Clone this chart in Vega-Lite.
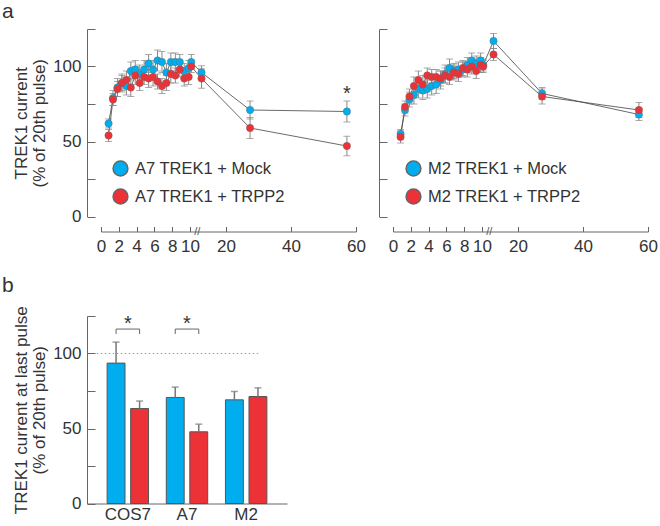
{
  "$schema": "https://vega.github.io/schema/vega-lite/v6.json",
  "padding": {"left": 2, "top": 0, "right": 2, "bottom": 2},
  "background": "white",
  "config": {
    "font": "Liberation Sans",
    "view": {"stroke": null},
    "axis": {"grid": false, "domainColor": "#666", "tickColor": "#666", "labelColor": "#333", "titleColor": "#333", "labelFontSize": 17, "titleFontSize": 17, "titleFontWeight": "normal", "domainWidth": 1, "tickWidth": 1},
    "title": {"fontWeight": "normal", "color": "#333"}
  },
  "datasets": {
    "curves": [
      {"panel": "A7", "series": "A7 TREK1 + Mock", "x": 0.85, "v": 62, "e": 3},
      {"panel": "A7", "series": "A7 TREK1 + Mock", "x": 1.35, "v": 79, "e": 5},
      {"panel": "A7", "series": "A7 TREK1 + Mock", "x": 1.85, "v": 86, "e": 6},
      {"panel": "A7", "series": "A7 TREK1 + Mock", "x": 2.35, "v": 89, "e": 6},
      {"panel": "A7", "series": "A7 TREK1 + Mock", "x": 2.85, "v": 87, "e": 6},
      {"panel": "A7", "series": "A7 TREK1 + Mock", "x": 3.35, "v": 97, "e": 6},
      {"panel": "A7", "series": "A7 TREK1 + Mock", "x": 3.85, "v": 98, "e": 6},
      {"panel": "A7", "series": "A7 TREK1 + Mock", "x": 4.35, "v": 95, "e": 6},
      {"panel": "A7", "series": "A7 TREK1 + Mock", "x": 4.85, "v": 98, "e": 6},
      {"panel": "A7", "series": "A7 TREK1 + Mock", "x": 5.35, "v": 102, "e": 6},
      {"panel": "A7", "series": "A7 TREK1 + Mock", "x": 5.85, "v": 98, "e": 6},
      {"panel": "A7", "series": "A7 TREK1 + Mock", "x": 6.35, "v": 104, "e": 7},
      {"panel": "A7", "series": "A7 TREK1 + Mock", "x": 6.85, "v": 103, "e": 7},
      {"panel": "A7", "series": "A7 TREK1 + Mock", "x": 7.35, "v": 96, "e": 6},
      {"panel": "A7", "series": "A7 TREK1 + Mock", "x": 7.85, "v": 103, "e": 6},
      {"panel": "A7", "series": "A7 TREK1 + Mock", "x": 8.35, "v": 103, "e": 6},
      {"panel": "A7", "series": "A7 TREK1 + Mock", "x": 8.85, "v": 103, "e": 5},
      {"panel": "A7", "series": "A7 TREK1 + Mock", "x": 9.35, "v": 97, "e": 5},
      {"panel": "A7", "series": "A7 TREK1 + Mock", "x": 9.85, "v": 99, "e": 5},
      {"panel": "A7", "series": "A7 TREK1 + Mock", "x": 10.35, "v": 103, "e": 5},
      {"panel": "A7", "series": "A7 TREK1 + Mock", "x": 13.2, "v": 96, "e": 4.5},
      {"panel": "A7", "series": "A7 TREK1 + Mock", "x": 27.4, "v": 71, "e": 6},
      {"panel": "A7", "series": "A7 TREK1 + Mock", "x": 57.2, "v": 70, "e": 7},
      {"panel": "A7", "series": "A7 TREK1 + TRPP2", "x": 0.85, "v": 54, "e": 4},
      {"panel": "A7", "series": "A7 TREK1 + TRPP2", "x": 1.35, "v": 78, "e": 4},
      {"panel": "A7", "series": "A7 TREK1 + TRPP2", "x": 1.85, "v": 85, "e": 5},
      {"panel": "A7", "series": "A7 TREK1 + TRPP2", "x": 2.35, "v": 89, "e": 5},
      {"panel": "A7", "series": "A7 TREK1 + TRPP2", "x": 2.85, "v": 91, "e": 6},
      {"panel": "A7", "series": "A7 TREK1 + TRPP2", "x": 3.35, "v": 86, "e": 6},
      {"panel": "A7", "series": "A7 TREK1 + TRPP2", "x": 3.85, "v": 94, "e": 6},
      {"panel": "A7", "series": "A7 TREK1 + TRPP2", "x": 4.35, "v": 89, "e": 5},
      {"panel": "A7", "series": "A7 TREK1 + TRPP2", "x": 4.85, "v": 93, "e": 5},
      {"panel": "A7", "series": "A7 TREK1 + TRPP2", "x": 5.35, "v": 92, "e": 6},
      {"panel": "A7", "series": "A7 TREK1 + TRPP2", "x": 5.85, "v": 93, "e": 6},
      {"panel": "A7", "series": "A7 TREK1 + TRPP2", "x": 6.35, "v": 90, "e": 5},
      {"panel": "A7", "series": "A7 TREK1 + TRPP2", "x": 6.85, "v": 87, "e": 5},
      {"panel": "A7", "series": "A7 TREK1 + TRPP2", "x": 7.35, "v": 89, "e": 5},
      {"panel": "A7", "series": "A7 TREK1 + TRPP2", "x": 7.85, "v": 95, "e": 6},
      {"panel": "A7", "series": "A7 TREK1 + TRPP2", "x": 8.35, "v": 94, "e": 5},
      {"panel": "A7", "series": "A7 TREK1 + TRPP2", "x": 8.85, "v": 98, "e": 5},
      {"panel": "A7", "series": "A7 TREK1 + TRPP2", "x": 9.35, "v": 92, "e": 5},
      {"panel": "A7", "series": "A7 TREK1 + TRPP2", "x": 9.85, "v": 93, "e": 5},
      {"panel": "A7", "series": "A7 TREK1 + TRPP2", "x": 10.35, "v": 100, "e": 4},
      {"panel": "A7", "series": "A7 TREK1 + TRPP2", "x": 13.2, "v": 92, "e": 6.5},
      {"panel": "A7", "series": "A7 TREK1 + TRPP2", "x": 27.4, "v": 59, "e": 7},
      {"panel": "A7", "series": "A7 TREK1 + TRPP2", "x": 57.2, "v": 47, "e": 6.5},
      {"panel": "M2", "series": "M2 TREK1 + Mock", "x": 0.85, "v": 55, "e": 3},
      {"panel": "M2", "series": "M2 TREK1 + Mock", "x": 1.35, "v": 71, "e": 4},
      {"panel": "M2", "series": "M2 TREK1 + Mock", "x": 1.85, "v": 78, "e": 5},
      {"panel": "M2", "series": "M2 TREK1 + Mock", "x": 2.35, "v": 81, "e": 6},
      {"panel": "M2", "series": "M2 TREK1 + Mock", "x": 2.85, "v": 85, "e": 6},
      {"panel": "M2", "series": "M2 TREK1 + Mock", "x": 3.35, "v": 84, "e": 6},
      {"panel": "M2", "series": "M2 TREK1 + Mock", "x": 3.85, "v": 85, "e": 6},
      {"panel": "M2", "series": "M2 TREK1 + Mock", "x": 4.35, "v": 87, "e": 6},
      {"panel": "M2", "series": "M2 TREK1 + Mock", "x": 4.85, "v": 88, "e": 6},
      {"panel": "M2", "series": "M2 TREK1 + Mock", "x": 5.35, "v": 91, "e": 6},
      {"panel": "M2", "series": "M2 TREK1 + Mock", "x": 5.85, "v": 95, "e": 6},
      {"panel": "M2", "series": "M2 TREK1 + Mock", "x": 6.35, "v": 99, "e": 6},
      {"panel": "M2", "series": "M2 TREK1 + Mock", "x": 6.85, "v": 97, "e": 5},
      {"panel": "M2", "series": "M2 TREK1 + Mock", "x": 7.35, "v": 98, "e": 5},
      {"panel": "M2", "series": "M2 TREK1 + Mock", "x": 7.85, "v": 98, "e": 5},
      {"panel": "M2", "series": "M2 TREK1 + Mock", "x": 8.35, "v": 101, "e": 5},
      {"panel": "M2", "series": "M2 TREK1 + Mock", "x": 8.85, "v": 104, "e": 5},
      {"panel": "M2", "series": "M2 TREK1 + Mock", "x": 9.35, "v": 102, "e": 5},
      {"panel": "M2", "series": "M2 TREK1 + Mock", "x": 9.85, "v": 104, "e": 5},
      {"panel": "M2", "series": "M2 TREK1 + Mock", "x": 10.35, "v": 101, "e": 4},
      {"panel": "M2", "series": "M2 TREK1 + Mock", "x": 13.2, "v": 117, "e": 5},
      {"panel": "M2", "series": "M2 TREK1 + Mock", "x": 27.4, "v": 82, "e": 4},
      {"panel": "M2", "series": "M2 TREK1 + Mock", "x": 57.2, "v": 68, "e": 4},
      {"panel": "M2", "series": "M2 TREK1 + TRPP2", "x": 0.85, "v": 53, "e": 4},
      {"panel": "M2", "series": "M2 TREK1 + TRPP2", "x": 1.35, "v": 73, "e": 4},
      {"panel": "M2", "series": "M2 TREK1 + TRPP2", "x": 1.85, "v": 80, "e": 5},
      {"panel": "M2", "series": "M2 TREK1 + TRPP2", "x": 2.35, "v": 87, "e": 6},
      {"panel": "M2", "series": "M2 TREK1 + TRPP2", "x": 2.85, "v": 91, "e": 6},
      {"panel": "M2", "series": "M2 TREK1 + TRPP2", "x": 3.35, "v": 88, "e": 6},
      {"panel": "M2", "series": "M2 TREK1 + TRPP2", "x": 3.85, "v": 94, "e": 5},
      {"panel": "M2", "series": "M2 TREK1 + TRPP2", "x": 4.35, "v": 93, "e": 5},
      {"panel": "M2", "series": "M2 TREK1 + TRPP2", "x": 4.85, "v": 93, "e": 5},
      {"panel": "M2", "series": "M2 TREK1 + TRPP2", "x": 5.35, "v": 92, "e": 5},
      {"panel": "M2", "series": "M2 TREK1 + TRPP2", "x": 5.85, "v": 94, "e": 5},
      {"panel": "M2", "series": "M2 TREK1 + TRPP2", "x": 6.35, "v": 93, "e": 5},
      {"panel": "M2", "series": "M2 TREK1 + TRPP2", "x": 6.85, "v": 96, "e": 5},
      {"panel": "M2", "series": "M2 TREK1 + TRPP2", "x": 7.35, "v": 95, "e": 5},
      {"panel": "M2", "series": "M2 TREK1 + TRPP2", "x": 7.85, "v": 99, "e": 5},
      {"panel": "M2", "series": "M2 TREK1 + TRPP2", "x": 8.35, "v": 98, "e": 5},
      {"panel": "M2", "series": "M2 TREK1 + TRPP2", "x": 8.85, "v": 100, "e": 5},
      {"panel": "M2", "series": "M2 TREK1 + TRPP2", "x": 9.35, "v": 97, "e": 5},
      {"panel": "M2", "series": "M2 TREK1 + TRPP2", "x": 9.85, "v": 101, "e": 5},
      {"panel": "M2", "series": "M2 TREK1 + TRPP2", "x": 10.35, "v": 100, "e": 4},
      {"panel": "M2", "series": "M2 TREK1 + TRPP2", "x": 13.2, "v": 108, "e": 4},
      {"panel": "M2", "series": "M2 TREK1 + TRPP2", "x": 27.4, "v": 80, "e": 5},
      {"panel": "M2", "series": "M2 TREK1 + TRPP2", "x": 57.2, "v": 71, "e": 5}
    ],
    "notes": [
      {"panel": "A7", "x": 57.2, "v": 82, "t": "*", "kind": "star"},
      {"panel": "A7", "x": 12, "v": -10, "t": "//", "kind": "break"},
      {"panel": "M2", "x": 12, "v": -10, "t": "//", "kind": "break"}
    ],
    "bars": [
      {"cell": "COS7", "grp": "Mock", "v": 93.6, "hi": 107.6},
      {"cell": "COS7", "grp": "TRPP2", "v": 63.3, "hi": 68.3},
      {"cell": "A7", "grp": "Mock", "v": 70.7, "hi": 77.6},
      {"cell": "A7", "grp": "TRPP2", "v": 47.8, "hi": 52.9},
      {"cell": "M2", "grp": "Mock", "v": 69.1, "hi": 74.7},
      {"cell": "M2", "grp": "TRPP2", "v": 71.3, "hi": 77.1}
    ],
    "brackets": [
      {"br": "c", "cell": "COS7", "grp": "Mock", "v": 113, "o": 1},
      {"br": "c", "cell": "COS7", "grp": "Mock", "v": 116.3, "o": 2},
      {"br": "c", "cell": "COS7", "grp": "TRPP2", "v": 116.3, "o": 3},
      {"br": "c", "cell": "COS7", "grp": "TRPP2", "v": 113, "o": 4},
      {"br": "a", "cell": "A7", "grp": "Mock", "v": 113, "o": 1},
      {"br": "a", "cell": "A7", "grp": "Mock", "v": 116.3, "o": 2},
      {"br": "a", "cell": "A7", "grp": "TRPP2", "v": 116.3, "o": 3},
      {"br": "a", "cell": "A7", "grp": "TRPP2", "v": 113, "o": 4}
    ],
    "stars": [
      {"cell": "COS7", "v": 119.5, "t": "*"},
      {"cell": "A7", "v": 119.5, "t": "*"}
    ],
    "ref": [
      {"c0": "COS7", "c1": "M2", "v": 100}
    ]
  },
  "resolve": {"scale": {"color": "independent", "x": "independent", "y": "independent", "xOffset": "independent"}, "legend": {"color": "independent"}},
  "bounds": "flush",
  "spacing": {"row": 99, "column": 22},
  "columns": 2,
  "concat": [
    {
      "width": 270,
      "height": 187.5,
      "title": {"text": "a", "anchor": "start", "frame": "group", "dx": -85, "fontSize": 21, "offset": -10, "baseline": "alphabetic"},
      "encoding": {
        "x": {"field": "x", "type": "quantitative", "scale": {"type": "linear", "domain": [0, 10, 20, 60], "range": [14, 103, 139, 269], "nice": false, "zero": false},
          "axis": {"values": [0, 2, 4, 6, 8, 10, 20, 40, 60], "title": null, "offset": 15, "tickSize": -5, "labelPadding": 12, "labelFlush": false, "labelOverlap": false}},
        "y": {"field": "v", "type": "quantitative", "scale": {"domain": [0, 125], "nice": false, "zero": false},
          "axis": {"values": [0, 25, 50, 75, 100, 125], "labelExpr": "datum.value % 50 === 0 ? datum.label : ''", "tickSize": -8, "labelPadding": 14, "title": ["TREK1 current", "(% of 20th pulse)"], "titlePadding": 4, "titleLineHeight": 18}}
      },
      "layer": [
        {"data": {"name": "curves"}, "transform": [{"filter": "datum.panel === 'A7'"}],
          "mark": {"type": "line", "color": "#444", "strokeWidth": 0.8},
          "encoding": {"detail": {"field": "series"}}},
        {"data": {"name": "curves"}, "transform": [{"filter": "datum.panel === 'A7'"}],
          "mark": {"type": "errorbar", "color": "#888", "thickness": 1, "ticks": {"size": 7, "color": "#888"}},
          "encoding": {"yError": {"field": "e"}, "detail": {"field": "series"}}},
        {"data": {"name": "curves"}, "transform": [{"filter": "datum.panel === 'A7'"}],
          "mark": {"type": "point", "filled": true, "size": 55, "opacity": 1, "stroke": "#666", "strokeWidth": 0.4},
          "encoding": {"color": {"field": "series", "type": "nominal",
            "scale": {"domain": ["A7 TREK1 + Mock", "A7 TREK1 + TRPP2"], "range": ["#00AEEF", "#EC3237"]},
            "legend": {"orient": "none", "legendX": 25, "legendY": 131, "title": null, "padding": 0, "symbolType": "circle", "symbolSize": 220, "labelFontSize": 16.5, "labelColor": "#333", "rowPadding": 7, "labelOffset": 6,
              "encode": {"symbols": {"update": {"stroke": {"value": "#444"}, "strokeWidth": {"value": 1}}}}}}}},
        {"data": {"name": "notes"}, "transform": [{"filter": "datum.panel === 'A7' && datum.kind === 'star'"}],
          "mark": {"type": "text", "fontSize": 20, "color": "#333", "baseline": "middle"},
          "encoding": {"text": {"field": "t"}}},
        {"data": {"name": "notes"}, "transform": [{"filter": "datum.panel === 'A7' && datum.kind === 'break'"}],
          "mark": {"type": "text", "fontSize": 11, "color": "#555", "baseline": "middle"},
          "encoding": {"text": {"field": "t"}}}
      ]
    },
    {
      "width": 270,
      "height": 187.5,
      "encoding": {
        "x": {"field": "x", "type": "quantitative", "scale": {"type": "linear", "domain": [0, 10, 20, 60], "range": [14, 103, 139, 269], "nice": false, "zero": false},
          "axis": {"values": [0, 2, 4, 6, 8, 10, 20, 40, 60], "title": null, "offset": 15, "tickSize": -5, "labelPadding": 12, "labelFlush": false, "labelOverlap": false}},
        "y": {"field": "v", "type": "quantitative", "scale": {"domain": [0, 125], "nice": false, "zero": false},
          "axis": {"values": [0, 25, 50, 75, 100, 125], "labels": false, "tickSize": -8, "title": null}}
      },
      "layer": [
        {"data": {"name": "curves"}, "transform": [{"filter": "datum.panel === 'M2'"}],
          "mark": {"type": "line", "color": "#444", "strokeWidth": 0.8},
          "encoding": {"detail": {"field": "series"}}},
        {"data": {"name": "curves"}, "transform": [{"filter": "datum.panel === 'M2'"}],
          "mark": {"type": "errorbar", "color": "#888", "thickness": 1, "ticks": {"size": 7, "color": "#888"}},
          "encoding": {"yError": {"field": "e"}, "detail": {"field": "series"}}},
        {"data": {"name": "curves"}, "transform": [{"filter": "datum.panel === 'M2'"}],
          "mark": {"type": "point", "filled": true, "size": 55, "opacity": 1, "stroke": "#666", "strokeWidth": 0.4},
          "encoding": {"color": {"field": "series", "type": "nominal",
            "scale": {"domain": ["M2 TREK1 + Mock", "M2 TREK1 + TRPP2"], "range": ["#00AEEF", "#EC3237"]},
            "legend": {"orient": "none", "legendX": 26, "legendY": 131, "title": null, "padding": 0, "symbolType": "circle", "symbolSize": 220, "labelFontSize": 16.5, "labelColor": "#333", "rowPadding": 7, "labelOffset": 6,
              "encode": {"symbols": {"update": {"stroke": {"value": "#444"}, "strokeWidth": {"value": 1}}}}}}}},
        {"data": {"name": "notes"}, "transform": [{"filter": "datum.panel === 'M2' && datum.kind === 'break'"}],
          "mark": {"type": "text", "fontSize": 11, "color": "#555", "baseline": "middle"},
          "encoding": {"text": {"field": "t"}}}
      ]
    },
    {
      "width": 200,
      "height": 187.5,
      "title": {"text": "b", "anchor": "start", "frame": "group", "dx": -85, "fontSize": 21, "offset": -7.5, "baseline": "alphabetic"},
      "encoding": {
        "x": {"field": "cell", "type": "nominal", "scale": {"domain": ["COS7", "A7", "M2"], "paddingInner": 0.3, "paddingOuter": 0.34},
          "axis": {"title": null, "ticks": false, "labelAngle": 0, "labelPadding": 3}},
        "y": {"field": "v", "type": "quantitative", "scale": {"domain": [0, 125], "nice": false, "zero": false},
          "axis": {"values": [0, 25, 50, 75, 100, 125], "labelExpr": "datum.value % 50 === 0 ? datum.label : ''", "tickSize": -8, "labelPadding": 14, "title": ["TREK1 current at last pulse", "(% of 20th pulse)"], "titlePadding": 4, "titleLineHeight": 18}}
      },
      "layer": [
        {"data": {"name": "ref"},
          "mark": {"type": "rule", "color": "#999", "strokeDash": [1.5, 2.5], "strokeWidth": 1},
          "encoding": {"x": {"field": "c0", "type": "nominal", "bandPosition": -0.25}, "x2": {"field": "c1", "bandPosition": 0.85}}},
        {"data": {"name": "bars"},
          "mark": {"type": "bar", "stroke": "#555", "strokeWidth": 1},
          "encoding": {"xOffset": {"field": "grp", "type": "nominal", "scale": {"domain": ["Mock", "TRPP2"], "paddingInner": 0.24}},
            "color": {"field": "grp", "type": "nominal", "scale": {"domain": ["Mock", "TRPP2"], "range": ["#00AEEF", "#EC3237"]}, "legend": null}}},
        {"data": {"name": "bars"},
          "mark": {"type": "rule", "color": "#777", "strokeWidth": 1.5},
          "encoding": {"xOffset": {"field": "grp", "type": "nominal"}, "y2": {"field": "hi"}}},
        {"data": {"name": "bars"},
          "mark": {"type": "tick", "color": "#777", "size": 7, "thickness": 1.5, "orient": "horizontal"},
          "encoding": {"xOffset": {"field": "grp", "type": "nominal"}, "y": {"field": "hi", "type": "quantitative"}}},
        {"data": {"name": "brackets"},
          "mark": {"type": "line", "color": "#666", "strokeWidth": 1},
          "encoding": {"xOffset": {"field": "grp", "type": "nominal"}, "detail": {"field": "br"}, "order": {"field": "o"}}},
        {"data": {"name": "stars"},
          "mark": {"type": "text", "fontSize": 20, "color": "#333", "baseline": "middle"},
          "encoding": {"text": {"field": "t"}}}
      ]
    }
  ]
}
